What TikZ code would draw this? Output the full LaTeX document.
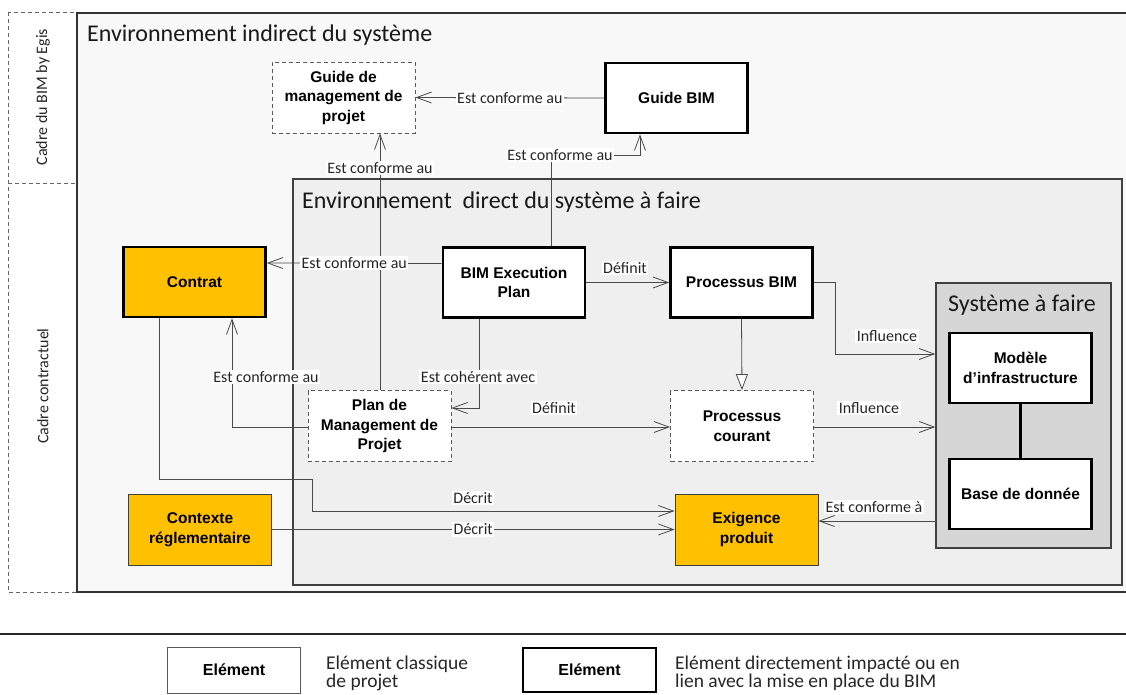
\documentclass[tikz,border=0pt]{standalone}
\usepackage{fontspec}
\setmainfont{Carlito}
\newfontfamily\arialf{Liberation Sans}
\usetikzlibrary{arrows.meta}
\definecolor{orng}{HTML}{FFC000}
\definecolor{bgout}{HTML}{F8F8F8}
\definecolor{bgin}{HTML}{EFEFEF}
\definecolor{sysgray}{HTML}{D6D6D6}
\definecolor{lnc}{HTML}{4A4A4A}
\begin{document}
\begin{tikzpicture}[x=1pt,y=-1pt,
  nodefont/.style={font=\arialf\bfseries\fontsize{15.5}{19.5}\selectfont},
  basebox/.style={rectangle, align=center, inner sep=0pt, nodefont, minimum width=142pt, minimum height=70pt},
  dashbox/.style={basebox, draw=black!65, dash pattern=on 4pt off 3pt, line width=0.9pt, fill=white, minimum width=143pt, minimum height=71pt},
  thickbox/.style={basebox, draw=black, line width=2.6pt, fill=white},
  orthick/.style={basebox, draw=black, line width=2.6pt, fill=orng},
  orthin/.style={basebox, draw=black!75, line width=0.9pt, fill=orng, minimum width=143pt, minimum height=71pt},
  arr/.style={draw=lnc, line width=0.8pt, -{Straight Barb[length=15pt,width=11pt,line width=0.8pt]}},
  tri/.style={draw=lnc, line width=0.8pt, -{Triangle[open,length=16pt,width=12pt,line width=0.8pt,fill=white]}},
  lbl/.style={fill=white, inner sep=1.5pt, text=black!85, font=\fontsize{16}{18}\selectfont},
  ttl/.style={anchor=west, inner sep=0pt, font=\fontsize{24}{28}\selectfont, text=black!90},
  legtext/.style={anchor=west, align=left, inner sep=0pt, font=\fontsize{19.5}{18}\selectfont, text=black!85},
  legbox/.style={basebox, fill=white, minimum width=133pt, minimum height=46pt, font=\arialf\bfseries\fontsize{16}{19}\selectfont}
]
\useasboundingbox (0,0) rectangle (1126,695);
\clip (0,0) rectangle (1126,695);
\fill[white] (0,0) rectangle (1126,695);

% frames
\draw[draw=black!60, dash pattern=on 4pt off 3pt, line width=0.8pt] (8,12) rectangle (77,592);
\draw[draw=black!60, dash pattern=on 4pt off 3pt, line width=0.8pt] (8,183) -- (77,183);
\node[rotate=90, font=\fontsize{16}{18}\selectfont, text=black!85] (cbim) at (43,97) {Cadre du BIM by Egis};
\node[rotate=90, font=\fontsize{16}{18}\selectfont, text=black!85] (ccon) at (43,386) {Cadre contractuel};

\draw[fill=bgout, draw=black!80, line width=1.8pt] (77,13) rectangle (1140,592);
\node[ttl] (t1) at (87,35) {Environnement indirect du système};
\draw[fill=bgin, draw=black!75, line width=1.4pt] (293,179) rectangle (1122,585);
\node[ttl] (t2) at (302,202) {Environnement\ \ direct du système à faire};

\node[rectangle, draw=black!75, line width=1.4pt, fill=sysgray, minimum width=175pt, minimum height=265pt, inner sep=0pt] (sys) at (1023.5,415.5) {};
\node[ttl] (t3) at (948,305) {Système à faire};

% nodes
\node[dashbox] (gmp) at (343.5,97.5) {Guide de\\management de\\projet};
\node[thickbox] (gbim) at (676.5,98) {Guide BIM};
\node[orthick] (contrat) at (194.5,282) {Contrat};
\node[thickbox] (bep) at (514,282.5) {BIM Execution\\Plan};
\node[thickbox] (pbim) at (741.5,282.5) {Processus BIM};
\node[dashbox] (pmp) at (379.5,426) {Plan de\\Management de\\Projet};
\node[dashbox] (pc) at (742,426) {Processus\\courant};
\node[thickbox] (mod) at (1020.5,368) {Modèle\\d’infrastructure};
\node[thickbox] (base) at (1020.5,494) {Base de donnée};
\node[orthin] (exig) at (746.5,529.5) {Exigence\\produit};
\node[orthin] (ctx) at (200,529.5) {Contexte\\réglementaire};

% helper coordinates
\coordinate (k1) at (551,155);
\coordinate (k2) at (640,155);
\coordinate (k3) at (835,354);
\coordinate (k4) at (936,521);
\coordinate (k5) at (159,479);
\coordinate (k6) at (312,479);
\coordinate (k7) at (312,511);
\coordinate (k8) at (232,427);
\coordinate (k9) at (479,408);
\coordinate (k10) at (380,390);

% connectors
\draw[arr] (gbim.west) -- (gmp.east) node[lbl, pos=0.5] {Est conforme au};
\draw[arr] (bep.north -| k1) -- (k1) -- (k2) -- (gbim.south -| k2);
\node[lbl] (l2) at (560,155) {Est conforme au};
\draw[arr] (pmp.north -| k10) -- (gmp.south -| k10);
\node[lbl] (l3) at (380,168) {Est conforme au};
\draw[arr] ([yshift=19pt]bep.west) -- ([yshift=19pt]contrat.east) node[lbl, pos=0.5] {Est conforme au};
\draw[arr] (bep.east) -- (pbim.west);
\node[lbl] (l5) at (625,268) {Définit};
\draw[arr] (bep.south -| k9) -- (k9) -- (k9 -| pmp.east);
\node[lbl] (l6) at (478,377) {Est cohérent avec};
\draw[arr] (pmp.west |- k8) -- (k8) -- (contrat.south -| k8);
\node[lbl] (l7) at (266,377) {Est conforme au};
\draw[arr] (pmp.east |- k8) -- (pc.west |- k8);
\node[lbl] (l8) at (554,408) {Définit};
\draw[tri] (pbim.south) -- (pc.north);
\draw[arr] (pbim.east) -| (k3) -- (sys.west |- k3);
\node[lbl] (l9) at (887,336) {Influence};
\draw[arr] (pc.east |- k8) -- (sys.west |- k8);
\node[lbl] (l10) at (869,408) {Influence};
\draw[line width=2.6pt] (mod.south) -- (base.north);
\draw[arr] (k4) -- (exig.east |- k4);
\node[lbl] (l11) at (874,507) {Est conforme à};
\draw[arr] (ctx.east) -- (exig.west) node[lbl, pos=0.5] {Décrit};
\draw[arr] (contrat.south -| k5) -- (k5) -- (k6) -- (k7) -- (exig.west |- k7);
\node[lbl] (l12) at (473,498) {Décrit};

% legend
\draw[draw=black!85, line width=1.5pt] (0,634) -- (1126,634);
\node[legbox, draw=black!65, line width=0.9pt] (lg1) at (234,670) {Elément};
\node[legtext] (lt1) at (326,673) {Elément classique\\de projet};
\node[legbox, draw=black, line width=2.6pt, minimum height=44pt] (lg2) at (589.5,670) {Elément};
\node[legtext] (lt2) at (675,673) {Elément directement impacté ou en\\lien avec la mise en place du BIM};
\end{tikzpicture}
\end{document}
